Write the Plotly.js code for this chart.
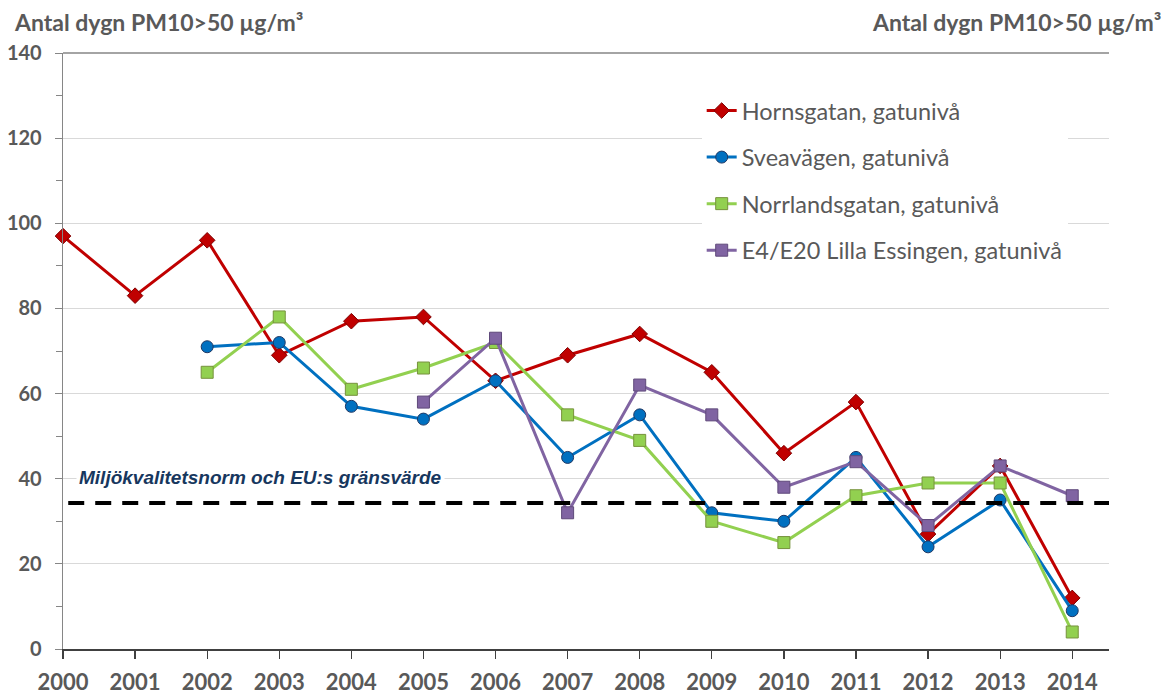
<!DOCTYPE html>
<html>
<head>
<meta charset="utf-8">
<script src="https://cdn.plot.ly/plotly-3.0.1.min.js"></script>
<style>
  html, body { margin: 0; padding: 0; background: #ffffff; }
  #chart { width: 1171px; height: 695px; }
</style>
</head>
<body>
<div id="chart"></div>
<script>
// ---- Data ----
const years = [2000, 2001, 2002, 2003, 2004, 2005, 2006, 2007, 2008, 2009, 2010, 2011, 2012, 2013, 2014];
const yearLabels = ["2000", "2001", "2002", "2003", "2004", "2005", "2006", "2007", "2008", "2009", "2010", "2011", "2012", "2013", "2014"];
const hornsgatan = [97, 83, 96, 69, 77, 78, 63, 69, 74, 65, 46, 58, 27, 43, 12];
const sveavagen = [null, null, 71, 72, 57, 54, 63, 45, 55, 32, 30, 45, 24, 35, 9];
const norrlandsgatan = [null, null, 65, 78, 61, 66, 72, 55, 49, 30, 25, 36, 39, 39, 4];
const essingen = [null, null, null, null, null, 58, 73, 32, 62, 55, 38, 44, 29, 43, 36];
const seriesNames = ["Hornsgatan, gatunivå", "Sveavägen, gatunivå", "Norrlandsgatan, gatunivå", "E4/E20 Lilla Essingen, gatunivå"];
const limitValue = 34.3;
const limitLabel = "Miljökvalitetsnorm och EU:s gränsvärde";
const yTickVals = [0, 20, 40, 60, 80, 100, 120, 140];
const yTickText = ["0", "20", "40", "60", "80", "100", "120", "140"];
const axisTitle = "Antal dygn PM10>50 µg/m³";

// ---- Styles ----
const labelFont = { family: "Lato, 'Open Sans', sans-serif", size: 20, color: "#595959", weight: 700 };
const xLabelFont = { family: "Lato, 'Open Sans', sans-serif", size: 22, color: "#595959", weight: 700 };

function series(y, name, color, symbol, fill, edge, size) {
  return {
    x: years, y: y, name: name, type: "scatter", mode: "lines+markers",
    line: { color: color, width: 3 },
    marker: { symbol: symbol, size: size, color: fill, line: { color: edge, width: 1 } },
    cliponaxis: false, connectgaps: false,
    legendgroup: name
  };
}

const traces = [
  series(hornsgatan, seriesNames[0], "#C00000", "diamond", "#C00000", "#7F0000", 12),
  series(sveavagen, seriesNames[1], "#0070C0", "circle", "#0070C0", "#1F3864", 12),
  series(norrlandsgatan, seriesNames[2], "#92D050", "square", "#92D050", "#76923C", 12),
  series(essingen, seriesNames[3], "#8064A2", "square", "#8064A2", "#5F497A", 12)
];

const yaxisBase = {
  range: [0, 140],
  tickvals: yTickVals, ticktext: yTickText,
  ticks: "outside", ticklen: 7, tickcolor: "#868686", tickwidth: 1,
  showline: true, linecolor: "#868686", linewidth: 1.3,
  tickfont: labelFont,
  ticklabelstandoff: 9,
  zeroline: false, fixedrange: true,
  minor: { dtick: 10, tick0: 0, ticks: "outside", ticklen: 6, tickcolor: "#868686", showgrid: false }
};

const layout = {
  width: 1171, height: 695,
  margin: { l: 63, r: 62, t: 53, b: 46 },
  paper_bgcolor: "#ffffff", plot_bgcolor: "#ffffff",
  showlegend: true,
  legend: {
    x: 0.6106, y: 0.94, xanchor: "left", yanchor: "top",
    bgcolor: "#ffffff", borderwidth: 0,
    font: { family: "Lato, 'Open Sans', sans-serif", size: 23.5, color: "#595959" },
    traceorder: "grouped", tracegroupgap: 13
  },
  xaxis: {
    range: [2000, 2014.51],
    tickvals: years, ticktext: yearLabels,
    ticks: "outside", ticklen: 8, tickcolor: "#404040", tickwidth: 1.3,
    showline: true, linecolor: "#404040", linewidth: 2,
    showgrid: false, zeroline: false,
    tickfont: xLabelFont, ticklabelstandoff: 5,
    fixedrange: true
  },
  yaxis: Object.assign({}, yaxisBase, {
    side: "left", showgrid: true, gridcolor: "#D9D9D9", gridwidth: 1
  }),
  yaxis2: Object.assign({}, yaxisBase, {
    side: "right", overlaying: "y", showgrid: false, anchor: "x", ticklabelstandoff: 11
  }),
  shapes: [
    { type: "line", xref: "paper", yref: "y", x0: 0.005, x1: 1, y0: limitValue, y1: limitValue,
      line: { color: "#000000", width: 4, dash: "16px,11px" }, layer: "above" },
    { type: "line", xref: "paper", yref: "paper", x0: 0, x1: 1, y0: 1, y1: 1,
      line: { color: "#868686", width: 1.3 } }
  ],
  annotations: [
    { text: axisTitle, xref: "paper", yref: "paper", x: -0.049, y: 1.0525, xanchor: "left", yanchor: "middle",
      showarrow: false, font: { family: "Lato, 'Open Sans', sans-serif", size: 23, color: "#595959", weight: 700 } },
    { text: axisTitle, xref: "paper", yref: "paper", x: 1.0514, y: 1.0525, xanchor: "right", yanchor: "middle",
      showarrow: false, font: { family: "Lato, 'Open Sans', sans-serif", size: 23, color: "#595959", weight: 700 } },
    { text: limitLabel, xref: "paper", yref: "y", x: 0.0121, y: 40.3, xanchor: "left", yanchor: "middle",
      showarrow: false, bgcolor: "#ffffff", borderpad: 2,
      font: { family: "'Liberation Sans', Arial, sans-serif", size: 19, color: "#17375E", weight: 700, style: "italic" } }
  ]
};

Plotly.newPlot("chart", traces, layout, { displayModeBar: false, staticPlot: true });
</script>
</body>
</html>
